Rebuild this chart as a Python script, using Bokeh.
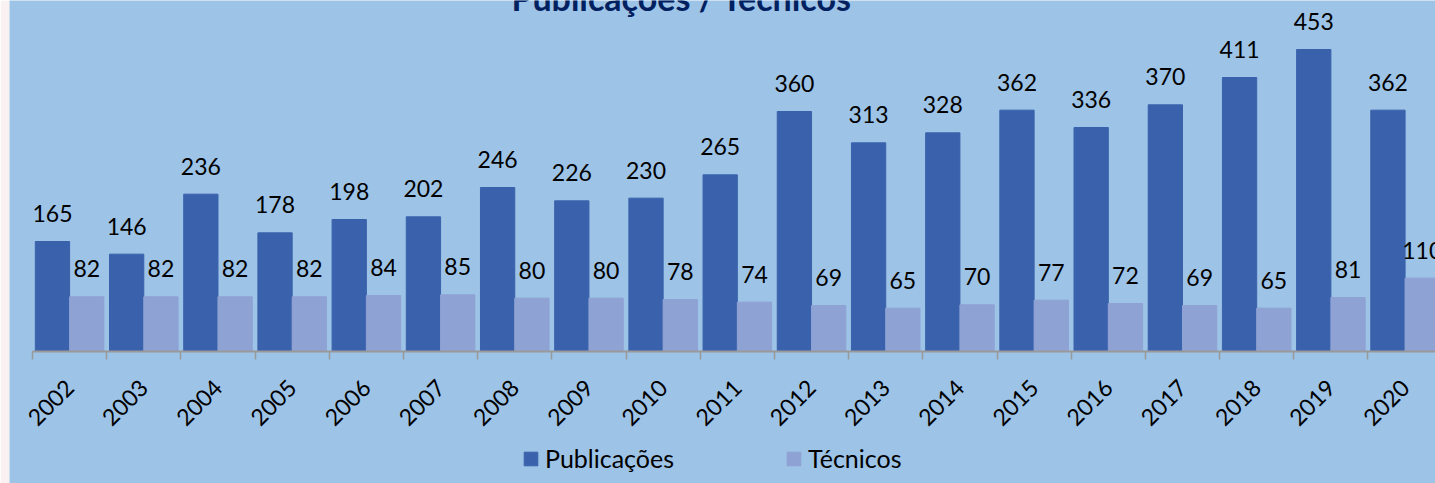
import math
from bokeh.plotting import figure
from bokeh.models import FixedTicker, Label, Range1d, Legend, LegendItem
from bokeh.core.properties import value
from bokeh.embed import file_html
from bokeh.resources import INLINE

years = ["2002", "2003", "2004", "2005", "2006", "2007", "2008", "2009", "2010", "2011",
         "2012", "2013", "2014", "2015", "2016", "2017", "2018", "2019", "2020"]
publicacoes = [165, 146, 236, 178, 198, 202, 246, 226, 230, 265,
               360, 313, 328, 362, 336, 370, 411, 453, 362]
tecnicos = [82, 82, 82, 82, 84, 85, 80, 80, 78, 74,
            69, 65, 70, 77, 72, 69, 65, 81, 110]
series_names = ["Publicações", "Técnicos"]
title_text = "Publicações / Técnicos"

BG = "#9DC3E6"
C_PUB = "#3A62AC"
C_TEC = "#8FA2D4"
FONT = "Lato"

xs = list(range(len(years)))
off = 0.231
bw = 0.462
pub_x = [i - off for i in xs]
tec_x = [i + off for i in xs]

p = figure(width=1435, height=483, output_backend="svg", toolbar_location=None,
           x_range=Range1d(-0.81, 18.41), y_range=Range1d(-198, 526.5),
           y_axis_location=None, min_border_left=9, min_border_right=0,
           min_border_top=0, min_border_bottom=0)
p.background_fill_color = BG
p.border_fill_color = "#FAF1F1"
p.outline_line_color = None
p.xgrid.visible = False
p.ygrid.visible = False

r1 = p.vbar(x=pub_x, top=publicacoes, width=bw, color=C_PUB)
r2 = p.vbar(x=tec_x, top=tecnicos, width=bw, color=C_TEC)

p.text(x=pub_x, y=publicacoes, text=[str(v) for v in publicacoes], text_align="center",
       text_baseline="alphabetic", y_offset=-28, text_font=value(FONT),
       text_font_size="23px", text_color="black")
p.text(x=tec_x, y=tecnicos, text=[str(v) for v in tecnicos], text_align="center",
       text_baseline="alphabetic", y_offset=-28, text_font=value(FONT),
       text_font_size="23px", text_color="black")

ax = p.xaxis[0]
ax.fixed_location = 0
ax.bounds = (-0.5, 18.5)
ax.ticker = FixedTicker(ticks=xs, minor_ticks=[i - 0.5 for i in range(len(years) + 1)])
ax.major_label_overrides = {i: y for i, y in zip(xs, years)}
ax.major_tick_out = 0
ax.major_tick_in = 0
ax.minor_tick_out = 8
ax.minor_tick_in = 0
ax.minor_tick_line_color = "#999999"
ax.minor_tick_line_width = 1.5
ax.axis_line_color = "#999999"
ax.axis_line_width = 1.8
ax.major_label_orientation = math.pi / 4
ax.major_label_standoff = 24
ax.major_label_text_font = FONT
ax.major_label_text_font_size = "23px"
ax.major_label_text_color = "black"

lg = Legend(items=[LegendItem(label=series_names[0], renderers=[r1]),
                   LegendItem(label=series_names[1], renderers=[r2])])
lg.orientation = "horizontal"
lg.location = (513, 10)
lg.background_fill_alpha = 0
lg.border_line_color = None
lg.padding = 0
lg.margin = 0
lg.glyph_width = 17
lg.glyph_height = 17
lg.label_standoff = 6
lg.label_width = 137
lg.spacing = 103
lg.label_text_font = FONT
lg.label_text_font_size = "25px"
lg.label_text_color = "black"
p.add_layout(lg, "center")

p.add_layout(Label(x=8.25, y=531, text=title_text, text_align="center",
                   text_baseline="alphabetic", text_font=FONT, text_font_size="34px",
                   text_font_style="bold", text_color="#002060"))

open("out.html", "w").write(file_html(p, INLINE))
